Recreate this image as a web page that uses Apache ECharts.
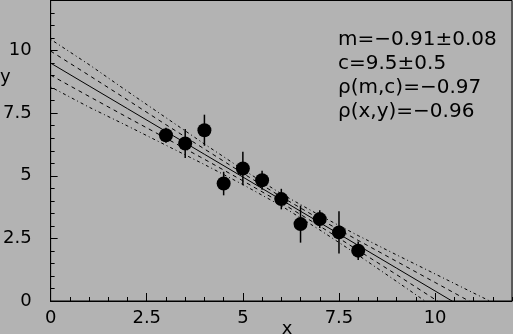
<!DOCTYPE html>
<html>
<head>
<meta charset="utf-8">
<script src="https://cdn.jsdelivr.net/npm/echarts@6/dist/echarts.min.js"></script>
<style>
html,body{margin:0;padding:0;background:#b3b3b3;}
#chart{width:513px;height:334px;}
</style>
</head>
<body>
<div id="chart"></div>
<script>
// Data points
var xs = [3, 3.5, 4, 4.5, 5, 5.5, 6, 6.5, 7, 7.5, 8];
var ys = [6.62, 6.29, 6.82, 4.69, 5.29, 4.82, 4.07, 3.07, 3.27, 2.74, 2.01];
var yErr = [0.30, 0.58, 0.62, 0.47, 0.67, 0.38, 0.41, 0.74, 0.35, 0.84, 0.37];

// Fit line and confidence bands
var bandX = [0, 1, 2, 3, 4, 5, 6, 7, 8, 9, 10, 11, 12];
var fitY = [9.50, 8.59, 7.68, 6.77, 5.86, 4.95, 4.04, 3.13, 2.22, 1.31, 0.40, -0.51, -1.42];
var up1Y = [9.98, 9.01, 8.03, 7.04, 6.07, 5.10, 4.16, 3.27, 2.42, 1.58, 0.74, -0.10, -0.93];
var lo1Y = [9.02, 8.17, 7.33, 6.50, 5.66, 4.80, 3.92, 2.99, 2.02, 1.05, 0.06, -0.92, -1.91];
var up2Y = [10.45, 9.44, 8.37, 7.32, 6.27, 5.25, 4.28, 3.42, 2.61, 1.84, 1.08, 0.32, -0.44];
var lo2Y = [8.55, 7.74, 6.99, 6.22, 5.45, 4.65, 3.80, 2.84, 1.83, 0.78, -0.28, -1.34, -2.40];

var annotation = ['m=\u22120.91\u00b10.08', 'c=9.5\u00b10.5', '\u03c1(m,c)=\u22120.97', '\u03c1(x,y)=\u22120.96'];
var xName = 'x';
var yName = 'y';

var FONT = 'DejaVu Sans';
function pairs(xa, ya) { return xa.map(function (x, i) { return [x, ya[i]]; }); }
function lineSeries(yarr, type) {
  return {
    type: 'line', data: pairs(bandX, yarr), showSymbol: false, symbol: 'none',
    clip: true, silent: true, z: 2,
    lineStyle: { color: '#000', width: 1, type: type }
  };
}

var chart = echarts.init(document.getElementById('chart'), null, { renderer: 'canvas' });
var axisCommon = {
  type: 'value', min: 0, max: 12,
  splitLine: { show: false }
};
chart.setOption({
  backgroundColor: '#b3b3b3',
  animation: false,
  grid: { left: 49, right: 1, top: 0.5, bottom: 33, show: true, borderColor: '#000', borderWidth: 1, backgroundColor: 'transparent' },
  xAxis: [
    Object.assign({}, axisCommon, {
      position: 'bottom', interval: 2.5,
      axisLine: { show: true, lineStyle: { color: '#000', width: 1 } },
      axisTick: { show: true, inside: true, length: 8, lineStyle: { color: '#000', width: 1 } },
      axisLabel: { show: true, margin: 8, color: '#000', fontSize: 18, fontFamily: FONT, showMaxLabel: false }
    }),
    Object.assign({}, axisCommon, {
      position: 'bottom', interval: 0.5,
      axisLine: { show: false },
      axisTick: { show: true, inside: true, length: 4, lineStyle: { color: '#000', width: 1 } },
      axisLabel: { show: false }
    })
  ],
  yAxis: [
    Object.assign({}, axisCommon, {
      position: 'left', interval: 2.5,
      axisLine: { show: true, lineStyle: { color: '#000', width: 1 } },
      axisTick: { show: true, inside: true, length: 7, lineStyle: { color: '#000', width: 1 } },
      axisLabel: { show: true, margin: 19, color: '#000', fontSize: 18, fontFamily: FONT, showMaxLabel: false }
    }),
    Object.assign({}, axisCommon, {
      position: 'left', interval: 0.5,
      axisLine: { show: false },
      axisTick: { show: true, inside: true, length: 4, lineStyle: { color: '#000', width: 1 } },
      axisLabel: { show: false }
    })
  ],
  series: [
    lineSeries(fitY, 'solid'),
    lineSeries(up1Y, [4, 4]),
    lineSeries(lo1Y, [4, 4]),
    lineSeries(up2Y, [1, 3, 3, 3]),
    lineSeries(lo2Y, [1, 3, 3, 3]),
    {
      type: 'custom', z: 3, silent: true,
      data: xs.map(function (x, i) { return [x, ys[i] - yErr[i], ys[i] + yErr[i]]; }),
      renderItem: function (params, api) {
        var p1 = api.coord([api.value(0), api.value(1)]);
        var p2 = api.coord([api.value(0), api.value(2)]);
        return { type: 'line', shape: { x1: p1[0], y1: p1[1], x2: p2[0], y2: p2[1] }, style: { stroke: '#000', lineWidth: 1.5 } };
      }
    },
    {
      type: 'scatter', z: 4, silent: true, symbol: 'circle', symbolSize: 14,
      data: pairs(xs, ys),
      itemStyle: { color: '#000', opacity: 1 }
    }
  ],
  graphic: [
    { type: 'text', left: 338, top: 28, z: 10, style: { text: annotation.join('\n'), fill: '#000', font: '20px "' + FONT + '"', lineHeight: 24 } },
    { type: 'text', x: 0, y: 77, z: 10, style: { text: yName, fill: '#000', font: '18px "' + FONT + '"', verticalAlign: 'middle' } },
    { type: 'text', x: 287, y: 329, z: 10, style: { text: xName, fill: '#000', font: '18px "' + FONT + '"', align: 'center', verticalAlign: 'middle' } }
  ]
});
</script>
</body>
</html>
